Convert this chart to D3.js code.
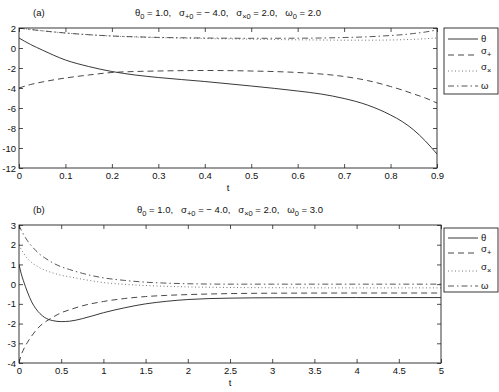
<!DOCTYPE html>
<html>
<head>
<meta charset="utf-8">
<script src="https://cdn.jsdelivr.net/npm/d3@7"></script>
<style>
  body { margin: 0; background: #fff; }
  svg { display: block; font-family: "Liberation Sans", Arial, sans-serif; }
</style>
</head>
<body>
<script>
// panel (a) data
var tA = [0, 0.025, 0.05, 0.1, 0.15, 0.2, 0.25, 0.3, 0.4, 0.5, 0.6, 0.65, 0.7, 0.75, 0.8, 0.825, 0.85, 0.875, 0.9];
var thetaA = [1.0, 0.35, -0.2, -1.2, -1.85, -2.35, -2.7, -2.95, -3.35, -3.8, -4.3, -4.6, -5.05, -5.7, -6.7, -7.35, -8.2, -9.3, -10.6];
var sigPlusA = [-4.0, -3.65, -3.4, -3.0, -2.7, -2.45, -2.35, -2.3, -2.25, -2.3, -2.45, -2.6, -2.85, -3.25, -3.85, -4.2, -4.6, -5.0, -5.5];
var sigCrossA = [2.0, 1.85, 1.72, 1.5, 1.33, 1.2, 1.1, 1.04, 0.95, 0.88, 0.82, 0.8, 0.78, 0.78, 0.8, 0.83, 0.87, 0.93, 1.0];
var omegaA = [2.0, 1.85, 1.72, 1.5, 1.33, 1.2, 1.12, 1.06, 1.0, 0.97, 0.98, 1.0, 1.05, 1.12, 1.25, 1.33, 1.45, 1.6, 1.8];
var xTicksA = [0, 0.1, 0.2, 0.3, 0.4, 0.5, 0.6, 0.7, 0.8, 0.9];
var yTicksA = [-12, -10, -8, -6, -4, -2, 0, 2];

// panel (b) data
var tB = [0, 0.025, 0.05, 0.1, 0.15, 0.2, 0.25, 0.3, 0.4, 0.5, 0.6, 0.75, 1, 1.25, 1.5, 1.75, 2, 2.5, 3, 4, 5];
var thetaB = [1.0, 0.55, 0.2, -0.4, -0.9, -1.25, -1.5, -1.68, -1.85, -1.9, -1.88, -1.75, -1.45, -1.2, -1.0, -0.87, -0.78, -0.71, -0.69, -0.68, -0.68];
var sigPlusB = [-4.0, -3.6, -3.35, -2.95, -2.63, -2.35, -2.12, -1.95, -1.68, -1.45, -1.3, -1.1, -0.88, -0.73, -0.63, -0.57, -0.53, -0.48, -0.46, -0.45, -0.45];
var sigCrossB = [2.0, 1.78, 1.6, 1.3, 1.1, 0.95, 0.82, 0.72, 0.57, 0.45, 0.37, 0.25, 0.08, -0.01, -0.07, -0.11, -0.14, -0.17, -0.18, -0.19, -0.19];
var omegaB = [3.0, 2.75, 2.55, 2.2, 1.93, 1.7, 1.5, 1.35, 1.08, 0.88, 0.74, 0.55, 0.32, 0.19, 0.1, 0.05, 0.02, 0.0, 0.0, 0.0, 0.0];
var xTicksB = [0, 0.5, 1, 1.5, 2, 2.5, 3, 3.5, 4, 4.5, 5];
var yTicksB = [-4, -3, -2, -1, 0, 1, 2, 3];

var width = 499, height = 392;

var styles = [
  { dash: null, color: "#222", w: 0.9 },
  { dash: "6,4", color: "#333", w: 0.9 },
  { dash: "1,2.5", color: "#666", w: 0.9 },
  { dash: "6,3,1.5,3", color: "#444", w: 0.9 }
];

var svg = d3.select("body").append("svg")
  .attr("width", width).attr("height", height);

function fmt(v) { return String(v).replace("\u2212", "-"); }

var sp = "\u00a0\u00a0\u00a0";

// text with subscript, parts = [[text, isSub], ...]
function richText(g, x, y, parts, anchor) {
  var t = g.append("text").attr("x", x).attr("y", y)
    .attr("font-size", 9.5).attr("fill", "#111")
    .attr("text-anchor", anchor || "start");
  var sub = false;
  parts.forEach(function (p) {
    var s = t.append("tspan").text(p[0]);
    if (p[1] && !sub) { s.attr("dy", 3).attr("font-size", 7.5); sub = true; }
    else if (!p[1] && sub) { s.attr("dy", -3); sub = false; }
    else if (p[1]) { s.attr("font-size", 7.5); }
  });
  return t;
}

function drawPanel(p) {
  var x = d3.scaleLinear().domain(p.xDomain).range([p.left, p.right]);
  var y = d3.scaleLinear().domain(p.yDomain).range([p.bottom, p.top]);
  var g = svg.append("g");

  var series = [p.theta, p.sigPlus, p.sigCross, p.omega];
  var clipId = "clip" + p.name;
  svg.append("clipPath").attr("id", clipId).append("rect")
    .attr("x", p.left).attr("y", p.top)
    .attr("width", p.right - p.left).attr("height", p.bottom - p.top);

  var line = d3.line()
    .x(function (d) { return x(d[0]); })
    .y(function (d) { return y(d[1]); })
    .curve(d3.curveMonotoneX);

  series.forEach(function (vals, i) {
    var pts = p.t.map(function (tv, j) { return [tv, vals[j]]; });
    g.append("path")
      .attr("d", line(pts))
      .attr("clip-path", "url(#" + clipId + ")")
      .attr("fill", "none")
      .attr("stroke", styles[i].color)
      .attr("stroke-width", styles[i].w)
      .attr("stroke-dasharray", styles[i].dash);
  });

  // axes with inward ticks
  var xb = g.append("g").attr("transform", "translate(0," + p.bottom + ")")
    .call(d3.axisBottom(x).tickValues(p.xTicks).tickSizeInner(-4).tickSizeOuter(0)
      .tickPadding(4).tickFormat(fmt));
  var xt = g.append("g").attr("transform", "translate(0," + p.top + ")")
    .call(d3.axisTop(x).tickValues(p.xTicks).tickSizeInner(-4).tickSizeOuter(0).tickFormat(""));
  var yl = g.append("g").attr("transform", "translate(" + p.left + ",0)")
    .call(d3.axisLeft(y).tickValues(p.yTicks).tickSizeInner(-4).tickSizeOuter(0)
      .tickPadding(3).tickFormat(fmt));
  var yr = g.append("g").attr("transform", "translate(" + p.right + ",0)")
    .call(d3.axisRight(y).tickValues(p.yTicks).tickSizeInner(-4).tickSizeOuter(0).tickFormat(""));
  [xb, xt, yl, yr].forEach(function (a) {
    a.select(".domain").remove();
    a.selectAll(".tick line").attr("stroke", "#222").attr("stroke-width", 0.8);
    a.selectAll("text").attr("font-size", 9.5).attr("fill", "#111")
      .attr("font-family", "Liberation Sans, Arial, sans-serif");
  });

  g.append("rect")
    .attr("x", p.left).attr("y", p.top)
    .attr("width", p.right - p.left).attr("height", p.bottom - p.top)
    .attr("fill", "none").attr("stroke", "#222").attr("stroke-width", 0.9);

  // axis label
  g.append("text").attr("x", (p.left + p.right) / 2).attr("y", p.bottom + 23)
    .attr("text-anchor", "middle").attr("font-size", 9.5).attr("fill", "#111").text("t");

  // panel tag and title
  g.append("text").attr("x", 33).attr("y", p.top - 12)
    .attr("font-size", 9.5).attr("fill", "#111").text(p.tag);
  richText(g, (p.left + p.right) / 2, p.top - 12, [
    ["\u03b8", false], ["0", true], [" = 1.0," + sp + "\u03c3", false], ["+0", true],
    [" = \u2212 4.0," + sp + "\u03c3", false], ["\u00d70", true], [" = 2.0," + sp + "\u03c9", false],
    ["0", true], [" = " + p.omega0, false]
  ], "middle");

  // legend
  var lg = g.append("g");
  lg.append("rect").attr("x", 444).attr("y", p.legTop)
    .attr("width", 54).attr("height", p.legH)
    .attr("fill", "#fff").attr("stroke", "#222").attr("stroke-width", 0.9);
  var labels = [
    [["\u03b8", false]],
    [["\u03c3", false], ["+", true]],
    [["\u03c3", false], ["\u00d7", true]],
    [["\u03c9", false]]
  ];
  labels.forEach(function (lab, i) {
    var ly = p.legRows[i];
    lg.append("line").attr("x1", 448).attr("x2", 478).attr("y1", ly).attr("y2", ly)
      .attr("stroke", styles[i].color).attr("stroke-width", styles[i].w)
      .attr("stroke-dasharray", styles[i].dash);
    richText(lg, 481, ly + (i === 1 || i === 2 ? -1 : 3), lab);
  });
}

drawPanel({
  name: "a", tag: "(a)", omega0: "2.0",
  left: 19, right: 437, top: 28, bottom: 168,
  xDomain: [0, 0.9], yDomain: [-12, 2],
  t: tA, theta: thetaA, sigPlus: sigPlusA, sigCross: sigCrossA, omega: omegaA,
  xTicks: xTicksA, yTicks: yTicksA,
  legTop: 28, legH: 66, legRows: [39, 55, 71, 86]
});

drawPanel({
  name: "b", tag: "(b)", omega0: "3.0",
  left: 19, right: 441, top: 225, bottom: 363,
  xDomain: [0, 5], yDomain: [-4, 3],
  t: tB, theta: thetaB, sigPlus: sigPlusB, sigCross: sigCrossB, omega: omegaB,
  xTicks: xTicksB, yTicks: yTicksB,
  legTop: 228, legH: 64, legRows: [238, 253, 271, 286]
});
</script>
</body>
</html>
